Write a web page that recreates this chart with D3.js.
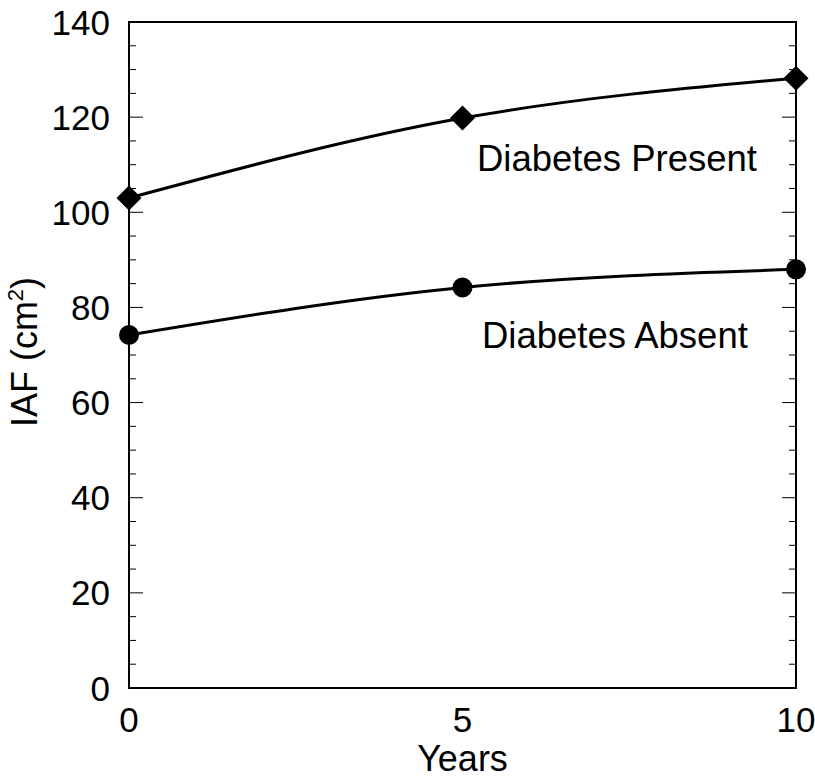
<!DOCTYPE html>
<html>
<head>
<meta charset="utf-8">
<script src="https://cdn.jsdelivr.net/npm/d3@7"></script>
<style>
  body { margin: 0; background: #fff; }
  text { font-family: "Liberation Sans", Arial, Helvetica, sans-serif; fill: #000; }
</style>
</head>
<body>
<svg id="chart" width="815" height="780"></svg>
<script>
// data
const years = [0, 5, 10];
const presentVals = [103, 119.8, 128.2];
const absentVals = [74.2, 84.2, 88.0];
const yTicks = [0, 20, 40, 60, 80, 100, 120, 140];
const xTicks = [0, 5, 10];

const margin = { left: 129, right: 19, top: 22, bottom: 92 };
const width = 815, height = 780;

const svg = d3.select("#chart");

const x = d3.scaleLinear().domain([0, 10]).range([margin.left, width - margin.right]);
const y = d3.scaleLinear().domain([0, 140]).range([height - margin.bottom, margin.top]);

// minor / major ticks on left and right, pointing inward
const minor = d3.range(0, 141, 5);
const tickG = svg.append("g").attr("stroke", "#000").attr("stroke-width", 1);
minor.forEach(v => {
  const len = v % 20 === 0 ? 14 : 7;
  tickG.append("line").attr("x1", x(0)).attr("x2", x(0) + len).attr("y1", y(v)).attr("y2", y(v));
  tickG.append("line").attr("x1", x(10)).attr("x2", x(10) - len).attr("y1", y(v)).attr("y2", y(v));
});

// frame
svg.append("rect")
  .attr("x", x(0)).attr("y", y(140))
  .attr("width", x(10) - x(0)).attr("height", y(0) - y(140))
  .attr("fill", "none").attr("stroke", "#000").attr("stroke-width", 2);

// y tick labels
svg.append("g").selectAll("text").data(yTicks).enter().append("text")
  .attr("x", x(0) - 19).attr("y", d => y(d))
  .attr("dy", "0.36em")
  .attr("text-anchor", "end")
  .style("font-size", "35px")
  .text(d => d);

// x tick labels
svg.append("g").selectAll("text").data(xTicks).enter().append("text")
  .attr("x", d => x(d)).attr("y", y(0) + 44)
  .attr("text-anchor", "middle")
  .style("font-size", "35px")
  .text(d => d);

// axis titles
svg.append("text")
  .attr("x", (x(0) + x(10)) / 2).attr("y", 771)
  .attr("text-anchor", "middle")
  .style("font-size", "36px")
  .text("Years");

const yt = svg.append("text")
  .attr("transform", `translate(37, 352) rotate(-90)`)
  .attr("text-anchor", "middle")
  .style("font-size", "36px");
yt.append("tspan").text("IAF (cm");
yt.append("tspan").attr("dy", "-14").style("font-size", "22px").text("2");
yt.append("tspan").attr("dy", "14").text(")");

const line = d3.line()
  .x((d, i) => x(years[i]))
  .y(d => y(d))
  .curve(d3.curveNatural);

[presentVals, absentVals].forEach(vals => {
  svg.append("path")
    .datum(vals)
    .attr("d", line)
    .attr("fill", "none")
    .attr("stroke", "#000")
    .attr("stroke-width", 3);
});

// diamonds
svg.append("g").selectAll("path").data(presentVals).enter().append("path")
  .attr("transform", (d, i) => `translate(${x(years[i])},${y(d)})`)
  .attr("d", "M0,-12.5L12.5,0L0,12.5L-12.5,0Z")
  .attr("fill", "#000");

// circles
svg.append("g").selectAll("circle").data(absentVals).enter().append("circle")
  .attr("cx", (d, i) => x(years[i]))
  .attr("cy", d => y(d))
  .attr("r", 10)
  .attr("fill", "#000");

// series labels
svg.append("text").attr("x", 477).attr("y", 171).style("font-size", "36.5px").text("Diabetes Present");
svg.append("text").attr("x", 482).attr("y", 348).style("font-size", "36.5px").text("Diabetes Absent");
</script>
</body>
</html>
